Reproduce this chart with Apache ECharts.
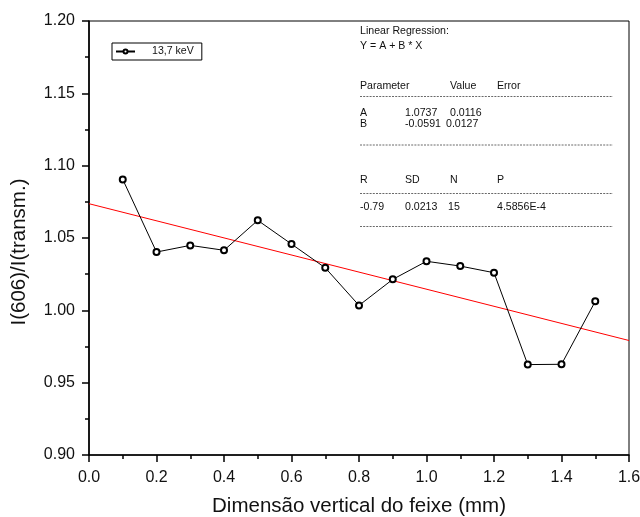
<!DOCTYPE html>
<html>
<head>
<meta charset="utf-8">
<script src="https://cdn.jsdelivr.net/npm/echarts@6/dist/echarts.min.js"></script>
<style>
  html, body { margin: 0; padding: 0; background: #fff; }
  #chart { width: 640px; height: 517px; }
</style>
</head>
<body>
<div id="chart"></div>
<script>
// Beam vertical position (mm) and intensity ratio I(606)/I(transm.)
const positions = [0.1, 0.2, 0.3, 0.4, 0.5, 0.6, 0.7, 0.8, 0.9, 1.0, 1.1, 1.2, 1.3, 1.4, 1.5];
const ratios = [1.0905, 1.0403, 1.0449, 1.0415, 1.0622, 1.0458, 1.0294, 1.0034,
                1.0214, 1.0339, 1.0306, 1.0260, 0.9625, 0.9627, 1.0062];
const seriesName = '13,7 keV';

// Linear fit Y = A + B * X
const fitNames = ['A', 'B'];
const fitValues = [1.0737, -0.0591];
const fitErrors = [0.0116, 0.0127];
const statNames = ['R', 'SD', 'N', 'P'];
const statValues = ['-0.79', '0.0213', '15', '4.5856E-4'];

const xRange = [0, 1.6];
const yRange = [0.90, 1.20];

const FONT = '"Liberation Sans", Arial, sans-serif';
const INK = '#111';

const chart = echarts.init(document.getElementById('chart'));

const points = positions.map((x, i) => [x, ratios[i]]);
const fitLine = xRange.map(x => [x, fitValues[0] + fitValues[1] * x]);

// Fit report drawn as a small text block
const col = [360, 405, 450, 497];
const rep = [];
function txt(s, x, y) {
  rep.push({ type: 'text', z: 50, style: { text: s, x: x, y: y, font: '10.6px ' + FONT, fill: INK, verticalAlign: 'middle' } });
}
function dash(y) {
  rep.push({ type: 'line', z: 50, shape: { x1: 360, y1: y, x2: 613, y2: y },
             style: { stroke: '#444', lineWidth: 0.8, lineDash: [2, 1.2] } });
}
txt('Linear Regression:', col[0], 31);
txt('Y = A + B * X', col[0], 46.5);
txt('Parameter', col[0], 86);
txt('Value', col[2], 86);
txt('Error', col[3], 86);
dash(96.5);
fitNames.forEach((n, i) => {
  const y = 113.5 + i * 11;
  txt(n, col[0], y);
  txt(fitValues[i].toFixed(4), col[1], y);
  txt(fitErrors[i].toFixed(4), i === 0 ? 450 : 446, y);
});
dash(145);
statNames.forEach((n, i) => txt(n, col[i], 180));
dash(193.5);
statValues.forEach((v, i) => txt(v, i === 2 ? 448 : col[i], 207.5));
dash(226.5);

chart.setOption({
  animation: false,
  backgroundColor: '#fff',
  textStyle: { fontFamily: FONT },
  grid: {
    left: 89, right: 11, top: 21, bottom: 62,
    outerBoundsMode: 'none', containLabel: false,
    show: true, borderColor: '#000', borderWidth: 1
  },
  legend: {
    left: 112, top: 43,
    data: [seriesName],
    borderColor: '#000', borderWidth: 1,
    padding: [3, 8, 3, 3],
    itemWidth: 19, itemHeight: 5,
    textStyle: { fontSize: 10.6, color: INK, padding: [0, 0, 0, 12], fontFamily: FONT }
  },
  xAxis: {
    type: 'value', min: xRange[0], max: xRange[1], interval: 0.2,
    name: 'Dimensão vertical do feixe (mm)', nameLocation: 'middle', nameGap: 41,
    nameTextStyle: { fontSize: 20.5, color: INK, fontFamily: FONT },
    axisLine: { lineStyle: { color: '#000', width: 1.6 } },
    axisTick: { length: 7, lineStyle: { color: '#000', width: 1.5 } },
    minorTick: { show: true, splitNumber: 2, length: 4, lineStyle: { color: '#000', width: 1.5 } },
    axisLabel: { fontSize: 16, color: INK, margin: 15, formatter: v => v.toFixed(1) },
    splitLine: { show: false }
  },
  yAxis: {
    type: 'value', min: yRange[0], max: yRange[1], interval: 0.05,
    name: 'I(606)/I(transm.)', nameLocation: 'middle', nameGap: 59, nameRotate: 90,
    nameTextStyle: { fontSize: 20.5, color: INK, fontFamily: FONT, padding: [0, 28, 0, 0] },
    axisLine: { lineStyle: { color: '#000', width: 1.6 } },
    axisTick: { length: 7, lineStyle: { color: '#000', width: 1.5 } },
    minorTick: { show: true, splitNumber: 2, length: 4, lineStyle: { color: '#000', width: 1.5 } },
    axisLabel: { fontSize: 16, color: INK, margin: 14, formatter: v => v.toFixed(2) },
    splitLine: { show: false }
  },
  series: [
    {
      name: 'fit', type: 'line', data: fitLine, symbol: 'none', silent: true,
      lineStyle: { color: '#ff0000', width: 1 }, z: 2
    },
    {
      name: seriesName, type: 'line', data: points,
      symbol: 'emptyCircle', symbolSize: 6,
      lineStyle: { color: '#000', width: 1 },
      itemStyle: { color: '#000', borderColor: '#000', borderWidth: 0.8 },
      z: 3
    }
  ],
  graphic: rep
});
</script>
</body>
</html>
